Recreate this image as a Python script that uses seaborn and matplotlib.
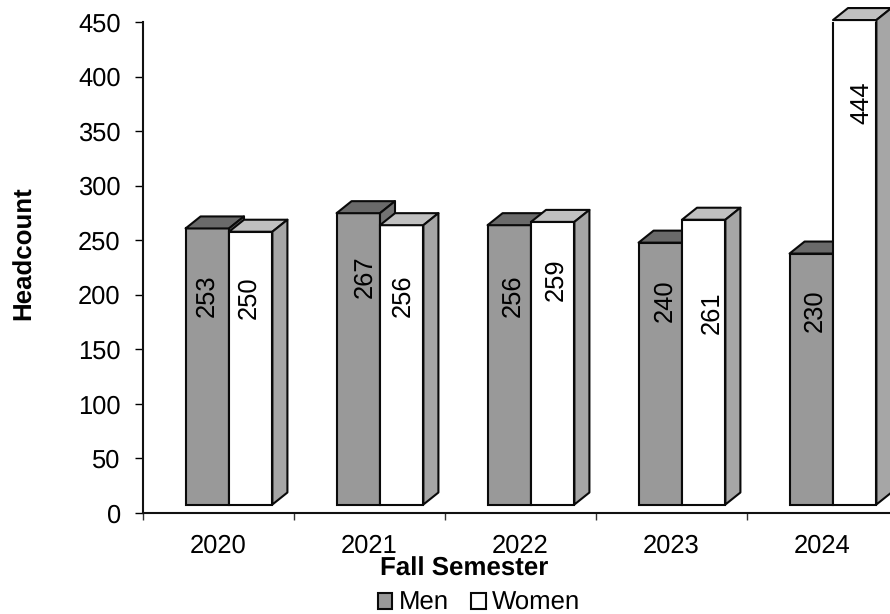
import matplotlib
matplotlib.use('Agg')
import matplotlib.pyplot as plt
from matplotlib.patches import Polygon, Patch
import seaborn as sns
import pandas as pd

semesters = ['2020', '2021', '2022', '2023', '2024']
men = [253, 267, 256, 240, 230]
women = [250, 256, 259, 261, 444]

# where each rotated label sits relative to its bar, in pixels
men_label_drop = [67, 64, 71, 58, 57]
women_label_drop = [66, 71, 58, 93, 83]
men_label_shift = [-0.5, 6.5, 3.5, 4.5, 3.5]
women_label_shift = [-1.5, 1.5, 3.5, 8.5, 6.5]

W, H, DPI = 890, 614, 100
LEFT, RIGHT, TOP, BOTTOM = 143, 890, 22, 513
CAT_PX = 151.0
PX_PER_UNIT = (BOTTOM - TOP) / 450.0

# fake 3d look
BASE = 8.5 / PX_PER_UNIT
SHIFT = 10.5 / CAT_PX
DEPTH_X = 15 / CAT_PX
DEPTH_Y = 12 / PX_PER_UNIT
EDGE = '#0a0a0a'
LW = 1.5
FONT = 18.4
BOLD = 18.6

sns.set_theme(style='white')
plt.rcParams['font.family'] = ['Liberation Sans', 'DejaVu Sans']
plt.rcParams['text.hinting'] = 'none'

df = pd.DataFrame({
    'semester': semesters * 2,
    'headcount': men + women,
    'gender': ['Men'] * len(men) + ['Women'] * len(women),
})

fig = plt.figure(figsize=(W / DPI, H / DPI), dpi=DPI)
ax = fig.add_axes([LEFT / W, 1 - BOTTOM / H, (RIGHT - LEFT) / W, (BOTTOM - TOP) / H])

sns.barplot(data=df, x='semester', y='headcount', hue='gender',
            palette=['#999999', '#ffffff'], width=0.575, gap=0, errorbar=None,
            edgecolor=EDGE, linewidth=LW, legend=False, ax=ax)

top_colors = ['#6a6a6a', '#c0c0c0']
side_colors = ['#737373', '#a6a6a6']
drops = [men_label_drop, women_label_drop]
shifts = [men_label_shift, women_label_shift]

for i, container in enumerate(ax.containers):
    for bar, drop, shift in zip(container, drops[i], shifts[i]):
        # move the front face up and across, then add top and side
        bar.set_x(bar.get_x() + SHIFT)
        value = bar.get_height()
        bar.set_y(BASE)
        bar.set_zorder(3 + i)
        x0, x1 = bar.get_x(), bar.get_x() + bar.get_width()
        y0, y1 = BASE, BASE + value
        top = Polygon([(x0, y1), (x0 + DEPTH_X, y1 + DEPTH_Y),
                       (x1 + DEPTH_X, y1 + DEPTH_Y), (x1, y1)],
                      facecolor=top_colors[i], edgecolor=EDGE, lw=LW,
                      joinstyle='round', zorder=3 + i, clip_on=False)
        side = Polygon([(x1, y0), (x1 + DEPTH_X, y0 + DEPTH_Y),
                        (x1 + DEPTH_X, y1 + DEPTH_Y), (x1, y1)],
                       facecolor=side_colors[i], edgecolor=EDGE, lw=LW,
                       joinstyle='round', zorder=3 + i, clip_on=False)
        ax.add_patch(top)
        ax.add_patch(side)
        ax.annotate(str(int(value)), xy=((x0 + x1) / 2, y1),
                    xytext=(shift * 72 / DPI, -drop * 72 / DPI), textcoords='offset points',
                    rotation=90, ha='center', va='center', annotation_clip=False,
                    fontsize=FONT, color='black', zorder=10)

ax.set_yticks(range(0, 451, 50))
ax.set_xticks(range(len(semesters)), semesters)
ax.set_xticks([i - 0.5 for i in range(len(semesters) + 1)], minor=True)
ax.set_ylim(0, 450)
ax.set_xlim(-0.5, -0.5 + (RIGHT - LEFT) / CAT_PX)

ax.tick_params(axis='x', which='major', length=0, pad=15, labelsize=FONT, colors='black')
ax.tick_params(axis='x', which='minor', length=5, width=1, color='#333333', bottom=True)
ax.tick_params(axis='y', length=6, width=1, pad=10, left=True, labelsize=FONT, colors='black')

for name in ['top', 'right']:
    ax.spines[name].set_visible(False)
for name in ['left', 'bottom']:
    ax.spines[name].set_color('#111111')
    ax.spines[name].set_linewidth(1.5)

ax.set_xlabel('Fall Semester', fontsize=BOLD, fontweight='bold', color='black')
ax.set_ylabel('Headcount', fontsize=BOLD, fontweight='bold', color='black')
ax.xaxis.set_label_coords((464 - LEFT) / (RIGHT - LEFT), (BOTTOM - 569) / (BOTTOM - TOP))
ax.xaxis.label.set_verticalalignment('center')
ax.yaxis.set_label_coords((24 - LEFT) / (RIGHT - LEFT), (BOTTOM - 253) / (BOTTOM - TOP))
ax.yaxis.label.set_verticalalignment('center')

handles = [Patch(facecolor='#999999', edgecolor=EDGE, lw=LW, label='Men'),
           Patch(facecolor='#ffffff', edgecolor=EDGE, lw=LW, label='Women')]
fig.legend(handles=handles, loc='center', bbox_to_anchor=(479 / W, 1 - 603 / H),
           ncol=2, frameon=False, fontsize=18.5, handlelength=0.58, handleheight=0.58,
           handletextpad=0.25, columnspacing=0.85, labelcolor='black',
           borderpad=0, borderaxespad=0)

plt.savefig('out.png', dpi=DPI)
